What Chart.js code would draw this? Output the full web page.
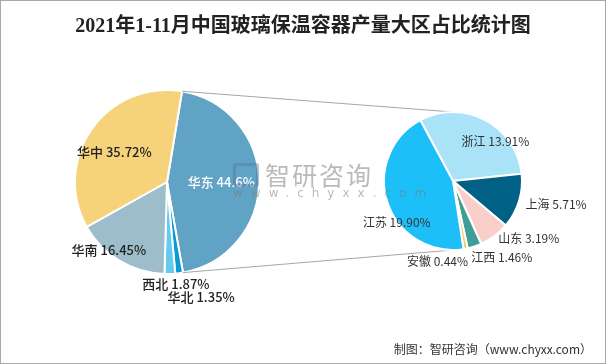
<!DOCTYPE html>
<html>
<head>
<meta charset="utf-8">
<title>2021年1-11月中国玻璃保温容器产量大区占比统计图</title>
<script src="https://cdn.jsdelivr.net/npm/chart.js@4"></script>
<style>
  html, body { margin: 0; padding: 0; background: #fff; }
  #wrap { position: relative; width: 606px; height: 364px; overflow: hidden;
          font-family: "Noto Sans CJK SC", sans-serif; }
  #wrap canvas { position: absolute; left: 0; top: 0; }
  #frame { position: absolute; left: 0; top: 0; width: 606px; height: 364px;
           box-sizing: border-box; border: 1px solid #a8a8a8; pointer-events: none; }
  #title { position: absolute; left: 0; top: 9px; width: 606px; text-align: center;
           font: bold 20px "Liberation Serif", "Noto Sans CJK SC", serif; color: #222; }
  #source { position: absolute; right: 14px; top: 340px; font-size: 12px; color: #333; }
  #wm { position: absolute; left: 233px; top: 158px; pointer-events: none; }
  #wm .logo { position: absolute; left: 0; top: 5px; width: 20px; height: 18px;
              border: 3px solid rgba(90, 120, 160, 0.45); border-radius: 3px; }
  #wm .name { position: absolute; left: 32px; top: -2px; white-space: nowrap;
              font-size: 25px; letter-spacing: 2px; color: rgba(140, 140, 140, 0.6); }
  #wm .url { position: absolute; left: 0; top: 28px; white-space: nowrap;
             font: 12px "DejaVu Sans", sans-serif; letter-spacing: 8px; color: rgba(120, 120, 120, 0.5); }
</style>
</head>
<body>
<div id="wrap">
  <canvas id="main" width="606" height="364"></canvas>
  <canvas id="detail" width="606" height="364"></canvas>
  <div id="title">2021年1-11月中国玻璃保温容器产量大区占比统计图</div>
  <div id="wm"><span class="logo"></span><span class="name">智研咨询</span><span class="url">www.chyxx.com</span></div>
  <div id="source">制图：智研咨询（www.chyxx.com）</div>
  <div id="frame"></div>
</div>
<script>
"use strict";

// ── Data ──────────────────────────────────────────────────────────────────────
const regions        = ["华东", "华北", "西北", "华南", "华中"];
const regionShares   = [44.6, 1.35, 1.87, 16.45, 35.72];
const provinces      = ["浙江", "上海", "山东", "江西", "安徽", "江苏"];
const provinceShares = [13.91, 5.71, 3.19, 1.46, 0.44, 19.90];

// ── Styles ────────────────────────────────────────────────────────────────────
const regionColors   = ["#60a3c4", "#0b9ad6", "#63cbf1", "#9ebdcb", "#f6d27a"];
const provinceColors = ["#aae2f8", "#006086", "#f9cfca", "#3f9f97", "#f5c86a", "#1dbff8"];
const regionText     = ["#fff", "#222", "#222", "#222", "#222"];
const provinceText   = ["#333", "#333", "#333", "#333", "#333", "#333"];

// label placement per slice: [radius factor, dx, dy]
const regionLabelPos   = [[0.59, 0, 0], [1.0, 22, 24], [1.02, 6, 8], [0.8, -20, 5], [0.62, -6, 3]];
const provinceLabelPos = [[0.6, 23, -3], [1.2, 24, -1], [1.15, 28, -6], [1.1, 25, 4], [1.15, -30, 2], [0.6, -17, 28]];

// ── Plugins ───────────────────────────────────────────────────────────────────
function sliceLabels({ pos, colors, format, font }) {
  return {
    id: "sliceLabels",
    afterDatasetsDraw(chart) {
      const { ctx } = chart;
      const values = chart.data.datasets[0].data;
      ctx.save();
      ctx.font = font;
      ctx.textAlign = "center";
      ctx.textBaseline = "middle";
      chart.getDatasetMeta(0).data.forEach((arc, i) => {
        const { x, y, startAngle, endAngle, outerRadius } =
          arc.getProps(["x", "y", "startAngle", "endAngle", "outerRadius"], true);
        const mid = (startAngle + endAngle) / 2;
        const [f, dx, dy] = pos[i];
        ctx.fillStyle = colors[i];
        ctx.fillText(`${chart.data.labels[i]} ${format(values[i])}%`,
          x + Math.cos(mid) * outerRadius * f + dx,
          y + Math.sin(mid) * outerRadius * f + dy);
      });
      ctx.restore();
    },
  };
}

let mainChart = null;

// lines from the 华东 slice edges to the top / bottom of the breakdown pie
const connectors = {
  id: "connectors",
  beforeDatasetsDraw(chart) {
    const big   = mainChart.getDatasetMeta(0).data[0];
    const small = chart.getDatasetMeta(0).data[0];
    const R = big.outerRadius;
    const { ctx } = chart;
    ctx.save();
    ctx.strokeStyle = "#a6a6a6";
    ctx.lineWidth = 1;
    ctx.beginPath();
    ctx.moveTo(big.x + Math.cos(big.startAngle) * R, big.y + Math.sin(big.startAngle) * R);
    ctx.lineTo(small.x, small.y - small.outerRadius);
    ctx.moveTo(big.x + Math.cos(big.endAngle) * R, big.y + Math.sin(big.endAngle) * R);
    ctx.lineTo(small.x, small.y + small.outerRadius);
    ctx.stroke();
    ctx.restore();
  },
};

function pieOptions(padding, rotation) {
  return {
    responsive: false,
    animation: false,
    rotation,
    layout: { padding },
    plugins: { legend: { display: false }, tooltip: { enabled: false } },
  };
}

// ── Charts ────────────────────────────────────────────────────────────────────
mainChart = new Chart(document.getElementById("main"), {
  type: "pie",
  data: {
    labels: regions,
    datasets: [{ data: regionShares, backgroundColor: regionColors, borderColor: "#fff", borderWidth: 2 }],
  },
  options: pieOptions({ left: 74, top: 89, right: 346, bottom: 89 }, 9.4),
  plugins: [sliceLabels({ pos: regionLabelPos, colors: regionText, format: v => String(v),
                          font: '500 13px "Noto Sans CJK SC", sans-serif' })],
});

new Chart(document.getElementById("detail"), {
  type: "pie",
  data: {
    labels: provinces,
    datasets: [{ data: provinceShares, backgroundColor: provinceColors, borderColor: "#fff", borderWidth: 2 }],
  },
  options: pieOptions({ left: 383, top: 111, right: 83, bottom: 113 }, -28.2),
  plugins: [connectors, sliceLabels({ pos: provinceLabelPos, colors: provinceText, format: v => v.toFixed(2),
                                      font: '12px "Noto Sans CJK SC", sans-serif' })],
});
</script>
</body>
</html>
